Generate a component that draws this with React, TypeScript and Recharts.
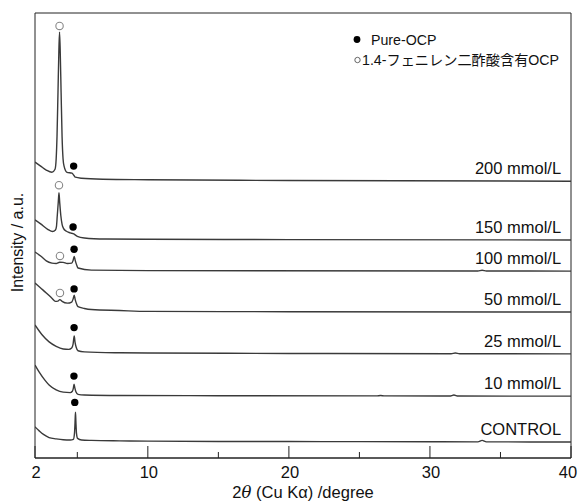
import {
  ComposedChart,
  Line,
  Scatter,
  XAxis,
  YAxis,
  ReferenceArea,
  Legend,
  Label,
} from "recharts";

const FONT = "'Liberation Sans', Arial, 'Noto Sans CJK JP', sans-serif";

// sample names, bottom to top
const samples = [
  "CONTROL",
  "10 mmol/L",
  "25 mmol/L",
  "50 mmol/L",
  "100 mmol/L",
  "150 mmol/L",
  "200 mmol/L",
];

// vertical stacking offset of each pattern (a.u.)
const offsets = [3.6, 13.9, 23.4, 32.8, 42.0, 49.0, 62.2];

// [2theta, intensity above baseline]
const control: [number, number][] = [
  [2.0, 3.4], [2.3, 2.5], [2.6, 1.7], [3.0, 1.0], [3.5, 0.7], [4.0, 0.5],
  [4.5, 0.45], [4.72, 0.6], [4.8, 2.0], [4.84, 4.5], [4.87, 6.7], [4.9, 4.5],
  [4.94, 2.0], [5.02, 0.8], [5.3, 0.45], [6, 0.35], [8, 0.25], [10, 0.2],
  [15, 0.12], [20, 0.1], [25, 0.08], [30, 0.05], [33.4, 0.03], [33.7, 0.35],
  [34.0, 0.03], [40, 0],
];

const mmol10: [number, number][] = [
  [2.0, 7.0], [2.3, 5.4], [2.7, 3.6], [3.0, 2.5], [3.5, 1.4], [4.0, 0.9],
  [4.5, 0.8], [4.65, 1.1], [4.72, 1.8], [4.77, 2.7], [4.82, 1.9], [4.9, 1.0],
  [5.05, 0.4], [5.5, 0.25], [8, 0.15], [15, 0.1], [26.2, 0.05], [26.5, 0.15],
  [26.8, 0.05], [31.4, 0.02], [31.7, 0.25], [32.0, 0.02], [40, 0],
];

const mmol25: [number, number][] = [
  [2.0, 6.5], [2.5, 4.3], [3.0, 2.7], [3.5, 1.7], [4.0, 1.1], [4.4, 1.0],
  [4.6, 1.3], [4.7, 2.2], [4.78, 4.0], [4.84, 2.6], [4.92, 1.5], [5.05, 0.7],
  [5.5, 0.45], [8, 0.25], [10, 0.2], [20, 0.1], [31.5, 0.02], [31.8, 0.2],
  [32.1, 0.02], [40, 0],
];

const mmol50: [number, number][] = [
  [2.0, 6.5], [2.4, 5.4], [2.8, 4.3], [3.2, 3.1], [3.45, 2.4], [3.62, 2.45],
  [3.76, 2.8], [3.92, 2.4], [4.3, 2.0], [4.6, 2.25], [4.7, 2.9], [4.78, 3.8],
  [4.85, 2.8], [4.95, 1.8], [5.05, 1.2], [5.5, 0.8], [6.0, 0.56], [8, 0.34],
  [10, 0.15], [20, 0.08], [40, 0],
];

const mmol100: [number, number][] = [
  [2.0, 4.3], [2.4, 3.4], [2.8, 2.3], [3.2, 1.8], [3.5, 1.7], [3.75, 2.0],
  [4.0, 1.95], [4.3, 1.7], [4.6, 1.8], [4.7, 2.4], [4.78, 3.3], [4.85, 2.4],
  [4.95, 1.4], [5.05, 0.7], [6, 0.22], [10, 0.1], [33.4, 0.03], [33.7, 0.2],
  [34.0, 0.03], [40, 0],
];

const mmol150: [number, number][] = [
  [2.0, 4.5], [2.4, 3.6], [2.9, 2.4], [3.25, 1.9], [3.45, 2.25], [3.52, 3.0],
  [3.58, 5.5], [3.65, 8.5], [3.7, 10.6], [3.75, 8.5], [3.83, 5.5], [3.92, 3.5],
  [4.02, 2.6], [4.2, 2.0], [4.5, 1.6], [4.75, 1.35], [5.0, 0.8], [5.5, 0.45],
  [7, 0.22], [10, 0.15], [20, 0.08], [40, 0],
];

const mmol200: [number, number][] = [
  [2.0, 4.3], [2.4, 3.4], [2.8, 2.5], [3.2, 2.0], [3.42, 2.7], [3.5, 5],
  [3.56, 10], [3.63, 20], [3.69, 29], [3.74, 33.5], [3.79, 29], [3.85, 20],
  [3.92, 10], [3.99, 5], [4.06, 3.4], [4.27, 2.0], [4.62, 1.8], [4.75, 1.35],
  [4.86, 0.9], [5.3, 0.67], [6.8, 0.45], [10, 0.34], [20, 0.15], [40, 0],
];

const patterns = [control, mmol10, mmol25, mmol50, mmol100, mmol150, mmol200];

// peak markers: [sample index, 2theta, height above baseline]
const pureMarks: [number, number, number][] = [
  [0, 4.82, 8.9], [1, 4.76, 4.5], [2, 4.77, 5.9], [3, 4.77, 5.2],
  [4, 4.77, 4.9], [5, 4.7, 2.9], [6, 4.74, 3.4],
];
const dopedMarks: [number, number, number][] = [
  [3, 3.77, 4.3], [4, 3.77, 3.4], [5, 3.7, 12.3], [6, 3.74, 34.9],
];

const xTicks = [2, 5, 10, 15, 20, 25, 30, 35, 40];
const xLabels = [2, 10, 20, 30, 40];

const legendItems = [
  { label: "Pure-OCP", filled: true },
  { label: "1.4-フェニレン二酢酸含有OCP", filled: false },
];

const toPoints = (arr: [number, number, number][]) =>
  arr.map(([i, x, h]) => ({ x, y: offsets[i] + h }));

const XTick = (props: any) => {
  const { x, y, payload } = props;
  const major = xLabels.includes(payload.value);
  return (
    <g>
      <line x1={x} x2={x} y1={y} y2={y - (major ? 12 : 6)} stroke="#222" />
      {major && (
        <text
          x={payload.value === 40 ? x - 3 : x + 1}
          y={y + 14}
          textAnchor="middle"
          dominantBaseline="central"
          fontSize={16.5}
          fontFamily={FONT}
          fill="#111"
        >
          {payload.value}
        </text>
      )}
    </g>
  );
};

const LegendBox = () => (
  <div style={{ fontFamily: FONT, fontSize: 14.2, color: "#111", lineHeight: "20px" }}>
    {legendItems.map((item) => (
      <div key={item.label} style={{ display: "flex", alignItems: "center", whiteSpace: "nowrap" }}>
        <svg width={item.filled ? 18 : 9} height={20}>
          {item.filled ? (
            <circle cx={4} cy={9.5} r={3.4} fill="#000" />
          ) : (
            <circle cx={4.5} cy={10} r={2.7} fill="#fff" stroke="#555" strokeWidth={0.9} />
          )}
        </svg>
        <span>{item.label}</span>
      </div>
    ))}
  </div>
);

export default function App() {
  const labelPoints = samples.map((name, i) => ({ x: 39.3, y: offsets[i] + 3.0, name }));

  return (
    <div style={{ position: "absolute", left: 0, top: 0, background: "#fff" }}>
      <ComposedChart width={578} height={501} margin={{ top: 13, right: 7, left: 0, bottom: 0 }}>
        <ReferenceArea x1={2} x2={40} y1={0} y2={100} fill="none" stroke="#222" strokeWidth={1} />
        <XAxis
          type="number"
          dataKey="x"
          domain={[2, 40]}
          ticks={xTicks}
          interval={0}
          allowDataOverflow
          tick={<XTick />}
          tickLine={false}
          tickSize={0}
          tickMargin={0}
          axisLine={{ stroke: "#222" }}
          height={43}
        >
          <Label
            content={({ viewBox }: any) => (
              <text
                x={viewBox.x + viewBox.width / 2}
                y={viewBox.y + 34}
                textAnchor="middle"
                dominantBaseline="central"
                fontSize={16.5}
                fontFamily={FONT}
                fill="#111"
              >
                2<tspan fontStyle="italic" fontFamily="'DejaVu Serif', serif">θ</tspan> (Cu Kα) /degree
              </text>
            )}
          />
        </XAxis>
        <YAxis
          type="number"
          dataKey="y"
          domain={[0, 100]}
          allowDataOverflow
          width={35}
          tick={false}
          tickLine={false}
          axisLine={false}
        >
          <Label
            content={({ viewBox }: any) => {
              const cx = viewBox.x + viewBox.width / 2;
              const cy = viewBox.y + viewBox.height / 2 + 7;
              return (
                <text
                  x={cx}
                  y={cy}
                  transform={`rotate(-90, ${cx}, ${cy})`}
                  textAnchor="middle"
                  dominantBaseline="central"
                  fontSize={16}
                  fontFamily={FONT}
                  fill="#111"
                >
                  Intensity / a.u.
                </text>
              );
            }}
          />
        </YAxis>
        <Legend
          layout="horizontal"
          verticalAlign="middle"
          align="center"
          wrapperStyle={{ top: 30, left: 353, width: "auto" }}
          content={() => <LegendBox />}
        />
        {patterns.map((pts, i) => (
          <Line
            key={samples[i]}
            data={pts.map(([x, v]) => ({ x, y: v + offsets[i] }))}
            dataKey="y"
            type="monotone"
            stroke="#3a3a3a"
            strokeWidth={1.4}
            dot={false}
            isAnimationActive={false}
            legendType="none"
          />
        ))}
        <Scatter
          data={toPoints(pureMarks)}
          dataKey="y"
          isAnimationActive={false}
          legendType="none"
          shape={(p: any) => <circle cx={p.cx} cy={p.cy} r={3.7} fill="#000" />}
        />
        <Scatter
          data={toPoints(dopedMarks)}
          dataKey="y"
          isAnimationActive={false}
          legendType="none"
          shape={(p: any) => (
            <circle cx={p.cx} cy={p.cy} r={3.7} fill="#fff" stroke="#888" strokeWidth={1.1} />
          )}
        />
        <Scatter
          data={labelPoints}
          dataKey="y"
          isAnimationActive={false}
          legendType="none"
          shape={(p: any) => (
            <text
              x={p.cx}
              y={p.cy}
              textAnchor="end"
              dominantBaseline="central"
              fontSize={16.5}
              fontFamily={FONT}
              fill="#111"
            >
              {p.payload.name}
            </text>
          )}
        />
      </ComposedChart>
    </div>
  );
}
